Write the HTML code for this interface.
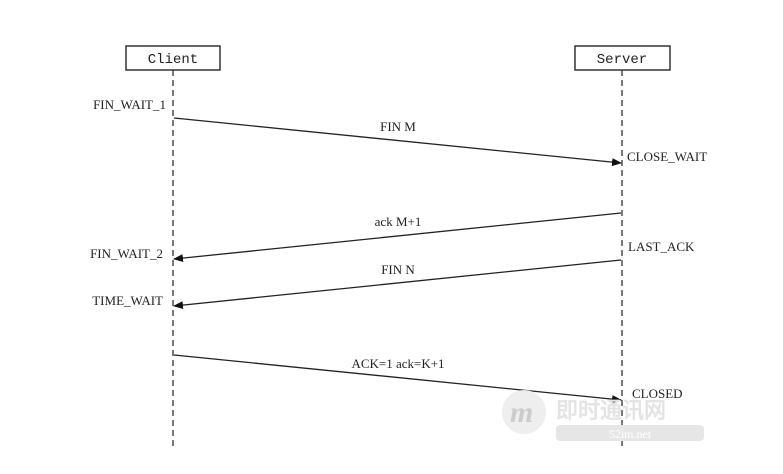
<!DOCTYPE html>
<html><head><meta charset="utf-8"><style>
html,body{margin:0;padding:0;background:#fff;}
svg text{font-family:"Liberation Serif",serif;font-size:13px;fill:#222;}
svg text.m{font-family:"Liberation Mono",monospace;font-size:14px;}
</style></head><body>
<svg width="783" height="469" viewBox="0 0 783 469" xmlns="http://www.w3.org/2000/svg">
<defs><marker id="a" markerWidth="10" markerHeight="8" refX="9" refY="4" orient="auto" markerUnits="userSpaceOnUse"><path d="M0,0 L10,4 L0,8 z" fill="#111"/></marker></defs>
<rect x="126" y="46" width="94" height="24" fill="#fff" stroke="#333" stroke-width="1.5"/>
<text class="m" x="173" y="63" text-anchor="middle">Client</text>
<rect x="575" y="46" width="95" height="24" fill="#fff" stroke="#333" stroke-width="1.5"/>
<text class="m" x="622" y="63" text-anchor="middle">Server</text>
<line x1="173" y1="70" x2="173" y2="450" stroke="#333" stroke-width="1.3" stroke-dasharray="6,4"/>
<line x1="622" y1="70" x2="622" y2="450" stroke="#333" stroke-width="1.3" stroke-dasharray="6,4"/>
<g stroke="#222" stroke-width="1.3">
<line x1="174" y1="118" x2="621" y2="163" marker-end="url(#a)"/>
<line x1="621" y1="213" x2="174" y2="259" marker-end="url(#a)"/>
<line x1="621" y1="260" x2="174" y2="306" marker-end="url(#a)"/>
<line x1="174" y1="355" x2="621" y2="400" marker-end="url(#a)"/>
</g>
<text x="398" y="131" text-anchor="middle">FIN M</text>
<text x="398" y="226" text-anchor="middle">ack M+1</text>
<text x="398" y="274" text-anchor="middle">FIN N</text>
<text x="398" y="368" text-anchor="middle">ACK=1 ack=K+1</text>
<text x="166" y="109" text-anchor="end">FIN_WAIT_1</text>
<text x="163" y="258" text-anchor="end">FIN_WAIT_2</text>
<text x="163" y="305" text-anchor="end">TIME_WAIT</text>
<text x="627" y="161">CLOSE_WAIT</text>
<text x="628" y="251">LAST_ACK</text>
<text x="632" y="398">CLOSED</text>
<circle cx="524" cy="412" r="22" fill="#eee"/>
<text x="510" y="422" style="font-size:30px;font-style:italic;font-weight:bold;fill:#ccc">m</text>
<text x="556" y="418" style="font-size:22px;font-weight:bold;fill:#e4e4e4">即时通讯网</text>
<rect x="556" y="425" width="148" height="16" rx="4" fill="#e6e6e6"/>
<text x="630" y="438" text-anchor="middle" style="fill:#fff;font-size:12px">52im.net</text>
</svg>
</body></html>
